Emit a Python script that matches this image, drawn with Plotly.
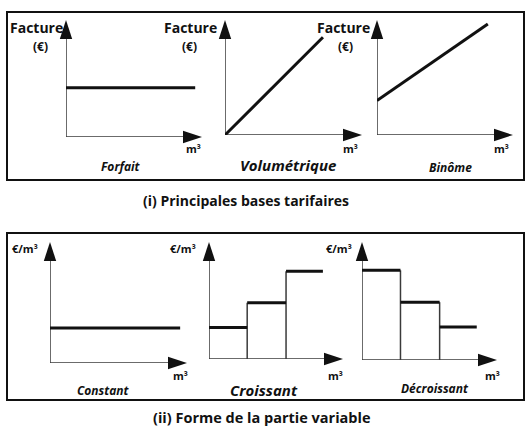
import plotly.graph_objects as go

W, H = 531, 427

# ---------------- data ----------------
# (i) Principales bases tarifaires  (axis units 0..10)
forfait_x = [0, 9.5]
forfait_y = [4.2, 4.2]
volum_x = [0, 7.15]
volum_y = [0, 8.5]
binome_x = [0, 8.15]
binome_y = [3.0, 9.65]

# (ii) Forme de la partie variable
tier_bounds = [0, 2.85, 5.75, 8.5]
constant_x = [0, 9.5]
constant_y = [2.9, 2.9]
croissant_levels = [2.7, 4.8, 7.5]
decroissant_levels = [7.6, 4.9, 2.8]

top_labels = ["Forfait", "Volumétrique", "Binôme"]
bottom_labels = ["Constant", "Croissant", "Décroissant"]
title_top = "(i) Principales bases tarifaires"
title_bottom = "(ii) Forme de la partie variable"

# ---------------- layout helpers ----------------
# panel geometry in pixels: origin x, origin y, x-tip, y-tip
panels = [
    (66, 137, 202, 20),
    (225, 135, 362, 20),
    (377, 135, 513, 20),
    (50, 363, 187, 242),
    (209, 359, 343, 242),
    (362, 360, 497, 242),
]

fig = go.Figure()
layout_axes = {}
for i, (ox, oy, xt, yt) in enumerate(panels, start=1):
    xa = "xaxis" if i == 1 else f"xaxis{i}"
    ya = "yaxis" if i == 1 else f"yaxis{i}"
    layout_axes[xa] = dict(domain=[ox / W, xt / W], range=[0, 10], visible=False,
                           anchor="y" if i == 1 else f"y{i}", fixedrange=True)
    layout_axes[ya] = dict(domain=[1 - oy / H, 1 - yt / H], range=[0, 10], visible=False,
                           anchor="x" if i == 1 else f"x{i}", fixedrange=True)

AX = "#3a3a3a"
LINE = "#111111"


def refs(i):
    return ("x" if i == 1 else f"x{i}", "y" if i == 1 else f"y{i}")


def add_axes(i):
    xr, yr = refs(i)
    # axis lines
    fig.add_trace(go.Scatter(x=[0, 9.2], y=[0, 0], mode="lines",
                             line=dict(color=AX, width=1.5), xaxis=xr, yaxis=yr,
                             hoverinfo="skip", showlegend=False))
    fig.add_trace(go.Scatter(x=[0, 0], y=[0, 9.2], mode="lines",
                             line=dict(color=AX, width=1.5), xaxis=xr, yaxis=yr,
                             hoverinfo="skip", showlegend=False))
    # arrow heads
    fig.add_trace(go.Scatter(x=[10], y=[0], mode="markers", cliponaxis=False,
                             marker=dict(symbol="arrow", angle=90, size=20, color="#111"),
                             xaxis=xr, yaxis=yr, hoverinfo="skip", showlegend=False))
    fig.add_trace(go.Scatter(x=[0], y=[10], mode="markers", cliponaxis=False,
                             marker=dict(symbol="arrow", angle=0, size=20, color="#111"),
                             xaxis=xr, yaxis=yr, hoverinfo="skip", showlegend=False))


def add_line(i, xs, ys, width=3, color=LINE):
    xr, yr = refs(i)
    fig.add_trace(go.Scatter(x=xs, y=ys, mode="lines", line=dict(color=color, width=width),
                             xaxis=xr, yaxis=yr, hoverinfo="skip", showlegend=False,
                             cliponaxis=False))


def add_steps(i, bounds, levels):
    xs, ys = [], []
    for k, lv in enumerate(levels):
        xs += [bounds[k], bounds[k + 1], None]
        ys += [lv, lv, None]
    vx, vy = [], []
    for k in range(1, len(levels)):
        vx += [bounds[k], bounds[k], None]
        vy += [0, max(levels[k - 1], levels[k]), None]
    add_line(i, vx, vy, width=1.5, color=AX)
    add_line(i, xs, ys, width=3)


for i in range(1, 7):
    add_axes(i)

add_line(1, forfait_x, forfait_y)
add_line(2, volum_x, volum_y)
add_line(3, binome_x, binome_y)
add_line(4, constant_x, constant_y)
add_steps(5, tier_bounds, croissant_levels)
add_steps(6, tier_bounds, decroissant_levels)

FONT = "Open Sans"
ann = []


def text(x, y, s, size, xanchor="center"):
    ann.append(dict(x=x / W, y=1 - y / H, xref="paper", yref="paper", text=s,
                    showarrow=False, xanchor=xanchor, yanchor="middle",
                    font=dict(family=FONT, size=size, color="#111")))


# y labels
for cx in (36, 190, 343):
    text(cx, 28, "<b>Facture</b>", 14)
for cx in (40, 189, 345):
    text(cx, 46, "<b>(€)</b>", 12)
for cx in (25, 183, 339):
    text(cx, 248, "<b>€/m³</b>", 11)
# x labels
for cx in (193, 350, 501):
    text(cx, 149, "<b>m³</b>", 11)
for cx in (180, 335, 492):
    text(cx, 375, "<b>m³</b>", 11)
# panel names
text(121, 166, f"<b><i>{top_labels[0]}</i></b>", 12)
text(288, 165, f"<b><i>{top_labels[1]}</i></b>", 15)
text(450, 167, f"<b><i>{top_labels[2]}</i></b>", 12)
text(103, 390, f"<b><i>{bottom_labels[0]}</i></b>", 12)
text(264, 390, f"<b><i>{bottom_labels[1]}</i></b>", 15)
text(435, 388, f"<b><i>{bottom_labels[2]}</i></b>", 12)
# titles
text(246, 200, f"<b>{title_top}</b>", 14)
text(262, 417, f"<b>{title_bottom}</b>", 14.5)

shapes = [
    dict(type="rect", xref="paper", yref="paper", x0=7 / W, x1=524 / W,
         y0=1 - 180 / H, y1=1 - 12 / H, line=dict(color="#111", width=2)),
    dict(type="rect", xref="paper", yref="paper", x0=7 / W, x1=524 / W,
         y0=1 - 400 / H, y1=1 - 233 / H, line=dict(color="#111", width=2)),
]

fig.update_layout(width=W, height=H, margin=dict(l=0, r=0, t=0, b=0),
                  paper_bgcolor="white", plot_bgcolor="white",
                  annotations=ann, shapes=shapes, **layout_axes)

fig.write_html("out.html", config={"displayModeBar": False},
               post_script="document.body.style.margin='0';document.body.style.overflow='hidden';")
